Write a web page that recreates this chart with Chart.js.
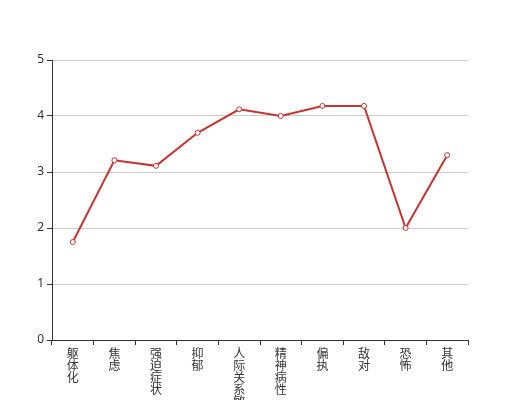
<!DOCTYPE html>
<html>
<head>
<meta charset="utf-8">
<script src="https://cdn.jsdelivr.net/npm/chart.js@4"></script>
<style>
  html, body { margin: 0; padding: 0; background: #fff; }
  #wrap { width: 520px; height: 400px; }
</style>
</head>
<body>
<div id="wrap"><canvas id="c" width="520" height="400"></canvas></div>
<script>
// SCL-90 factor scores
const categories = ['躯体化', '焦虑', '强迫症状', '抑郁', '人际关系敏感', '精神病性', '偏执', '敌对', '恐怖', '其他'];
const scores = [1.75, 3.21, 3.11, 3.70, 4.12, 4.00, 4.18, 4.18, 2.00, 3.30];
const yTicks = [0, 1, 2, 3, 4, 5];

const lineColor = '#c23531';
const axisColor = '#333';

new Chart(document.getElementById('c'), {
    type: 'line',
    data: {
        // one character per line -> vertical labels
        labels: categories.map((s) => s.split('')),
        datasets: [{
            data: scores,
            borderColor: lineColor,
            backgroundColor: '#fff',
            borderWidth: 2,
            pointRadius: 2.5,
            pointBorderWidth: 1,
            pointBorderColor: lineColor,
            pointBackgroundColor: '#fff',
            tension: 0,
        }],
    },
    options: {
        responsive: false,
        animation: false,
        layout: { padding: { top: 60, right: 52, left: 0, bottom: 0 } },
        plugins: { legend: { display: false }, tooltip: { enabled: false } },
        scales: {
            x: {
                type: 'category',
                offset: true,
                border: { color: axisColor, width: 1 },
                grid: {
                    offset: true,
                    drawOnChartArea: false,
                    drawTicks: true,
                    tickLength: 5,
                    tickColor: axisColor,
                },
                ticks: {
                    autoSkip: false,
                    maxRotation: 0,
                    minRotation: 0,
                    padding: 2,
                    color: '#333',
                    font: { family: '"Noto Sans CJK SC", sans-serif', size: 12, lineHeight: 1 },
                },
                afterFit: (scale) => { scale.height = 60; },
            },
            y: {
                min: 0,
                max: 5,
                border: { color: axisColor, width: 1 },
                grid: {
                    color: '#ccc',
                    tickColor: axisColor,
                    tickLength: 5,
                },
                ticks: {
                    stepSize: 1,
                    padding: 3,
                    color: '#333',
                    font: { family: '"Noto Sans", sans-serif', size: 12 },
                    callback: (v) => (yTicks.includes(v) ? String(v) : ''),
                },
                afterFit: (scale) => { scale.width = 52; },
            },
        },
    },
});
</script>
</body>
</html>
